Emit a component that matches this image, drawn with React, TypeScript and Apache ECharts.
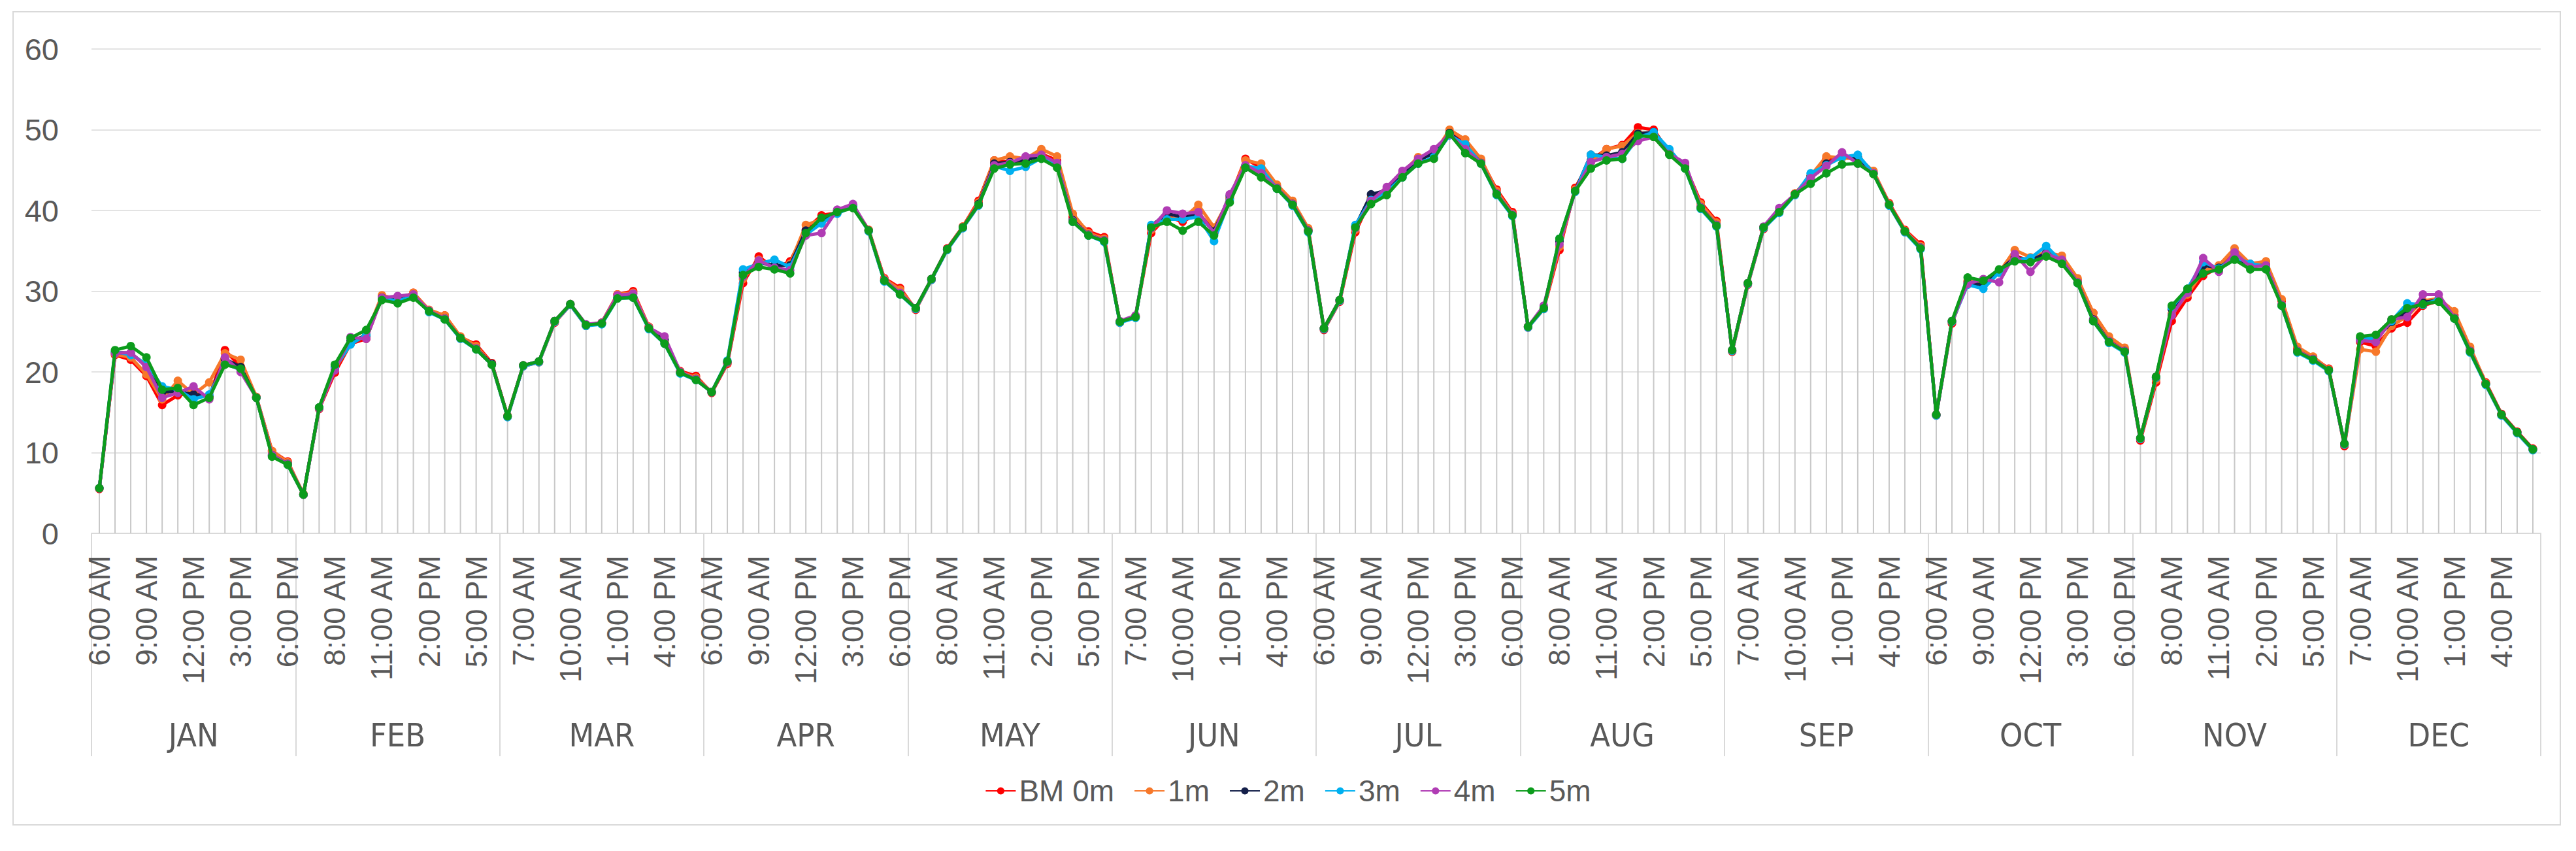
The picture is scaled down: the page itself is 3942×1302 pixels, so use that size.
import React, { useEffect, useRef } from "react";
import * as echarts from "echarts";

const months = ["JAN", "FEB", "MAR", "APR", "MAY", "JUN", "JUL", "AUG", "SEP", "OCT", "NOV", "DEC"];
const hours = [
  "6:00 AM", "7:00 AM", "8:00 AM", "9:00 AM", "10:00 AM", "11:00 AM", "12:00 PM",
  "1:00 PM", "2:00 PM", "3:00 PM", "4:00 PM", "5:00 PM", "6:00 PM",
];
const yTicks = [0, 10, 20, 30, 40, 50, 60];
const seriesNames = ["BM 0m", "1m", "2m", "3m", "4m", "5m"];

const bm0m = [
  5.5, 22.1, 21.5, 19.5, 15.9, 17.1, 17.5, 16.8, 22.7, 20.6, 16.9, 10.2, 8.9,
  4.8, 15.4, 19.9, 23.5, 24.1, 29.3, 28.8, 29.8, 27.6, 27.0, 24.3, 23.4, 21.1,
  14.5, 20.7, 21.2, 26.1, 28.3, 25.7, 26.1, 29.6, 30.0, 25.6, 23.8, 20.1, 19.5,
  17.4, 21.0, 31.0, 34.3, 32.8, 33.7, 37.6, 39.4, 39.7, 40.6, 37.6, 31.6, 30.4,
  27.7, 31.4, 35.3, 38.0, 41.2, 46.2, 46.0, 46.2, 47.0, 46.2, 39.2, 37.4, 36.7,
  26.1, 26.9, 37.2, 39.3, 38.6, 39.7, 37.5, 41.5, 46.4, 45.3, 43.0, 41.0, 37.6,
  25.2, 28.7, 37.3, 41.5, 42.5, 44.5, 46.3, 47.2, 49.6, 48.3, 46.2, 42.6, 39.8,
  25.5, 27.8, 35.1, 42.8, 46.2, 47.6, 48.1, 50.3, 50.0, 47.2, 45.5, 41.0, 38.7,
  22.5, 30.8, 37.7, 39.9, 42.1, 44.2, 46.4, 46.6, 46.6, 44.8, 40.9, 37.6, 35.8,
  14.6, 26.0, 31.2, 30.7, 32.4, 34.4, 33.7, 34.6, 34.0, 31.4, 27.3, 24.1, 22.8,
  11.5, 18.7, 26.3, 29.2, 31.9, 33.0, 34.6, 33.3, 33.3, 28.8, 22.9, 21.8, 20.4,
  10.8, 23.7, 23.2, 25.4, 26.1, 28.2, 28.8, 27.0, 22.8, 18.7, 14.8, 12.6, 10.5,
];
const m1 = [
  5.6, 22.2, 21.8, 19.7, 16.6, 18.9, 17.2, 18.7, 22.3, 21.5, 16.9, 10.2, 8.8,
  4.9, 15.5, 20.3, 23.6, 24.6, 29.5, 29.0, 29.8, 27.7, 27.0, 24.4, 23.2, 21.0,
  14.6, 20.8, 21.2, 26.2, 28.4, 25.8, 26.1, 29.6, 29.8, 25.6, 23.7, 20.0, 19.3,
  17.5, 21.1, 31.5, 33.9, 33.0, 33.4, 38.2, 38.9, 39.8, 40.5, 37.6, 31.5, 30.2,
  27.8, 31.5, 35.2, 38.0, 41.0, 46.2, 46.7, 46.4, 47.6, 46.7, 39.6, 37.2, 36.5,
  26.2, 26.9, 37.6, 39.1, 38.9, 40.7, 37.9, 41.5, 46.2, 45.8, 43.2, 41.2, 37.8,
  25.4, 28.8, 37.6, 41.6, 42.6, 44.7, 46.6, 47.0, 50.0, 48.8, 46.4, 42.4, 39.6,
  25.6, 27.9, 35.5, 42.6, 46.0, 47.6, 48.0, 49.6, 49.6, 47.0, 45.4, 40.8, 38.5,
  22.6, 31.0, 37.9, 39.9, 42.1, 44.3, 46.7, 46.5, 46.4, 44.9, 40.8, 37.5, 35.6,
  14.7, 26.2, 31.3, 30.9, 32.3, 35.1, 34.2, 34.8, 34.4, 31.6, 27.3, 24.4, 23.0,
  11.7, 19.0, 27.2, 29.6, 32.5, 33.2, 35.3, 33.4, 33.7, 29.0, 23.1, 21.9, 20.3,
  11.0, 22.8, 22.5, 25.7, 26.9, 28.8, 29.1, 27.5, 23.1, 18.6, 14.7, 12.5, 10.4,
];
const m2 = [
  5.6, 22.4, 22.3, 20.8, 17.5, 17.6, 17.2, 17.0, 21.6, 20.6, 16.8, 9.7, 8.6,
  4.8, 15.6, 20.6, 23.8, 24.5, 29.2, 28.9, 29.5, 27.5, 26.6, 24.2, 22.9, 21.0,
  14.5, 20.8, 21.3, 26.3, 28.4, 25.8, 26.0, 29.2, 29.3, 25.4, 24.0, 19.9, 19.1,
  17.5, 21.2, 32.3, 33.5, 33.2, 33.2, 37.5, 38.6, 40.0, 40.6, 37.5, 31.3, 29.7,
  27.9, 31.5, 35.2, 37.9, 40.8, 45.8, 46.0, 46.3, 46.7, 45.8, 38.8, 37.0, 36.3,
  26.2, 26.8, 38.1, 39.6, 39.2, 39.5, 37.4, 41.8, 45.5, 44.8, 42.8, 40.8, 37.5,
  25.4, 28.9, 38.0, 42.0, 42.5, 44.4, 46.2, 47.1, 49.6, 48.0, 45.9, 42.1, 39.5,
  25.6, 27.9, 36.2, 42.4, 46.9, 46.8, 47.2, 49.5, 49.7, 47.0, 45.3, 40.4, 38.2,
  22.7, 31.0, 37.9, 39.9, 42.0, 44.2, 45.8, 46.7, 46.6, 44.6, 40.7, 37.4, 35.4,
  14.7, 26.3, 31.0, 30.8, 32.5, 34.2, 33.8, 34.7, 33.8, 31.1, 26.5, 23.8, 22.6,
  11.8, 19.3, 27.8, 30.0, 33.2, 32.9, 34.2, 33.2, 33.1, 28.3, 22.6, 21.6, 20.2,
  11.1, 24.1, 24.0, 26.2, 27.5, 28.6, 28.9, 26.7, 22.6, 18.5, 14.7, 12.5, 10.4,
];
const m3 = [
  5.6, 22.5, 22.1, 21.0, 18.2, 17.8, 16.6, 17.2, 21.0, 20.3, 16.8, 9.6, 8.5,
  4.8, 15.5, 20.5, 23.4, 24.6, 29.1, 28.8, 29.4, 27.4, 26.5, 24.1, 22.8, 20.9,
  14.4, 20.7, 21.2, 26.2, 28.3, 25.7, 25.9, 29.1, 29.2, 25.3, 23.5, 19.8, 19.0,
  17.5, 21.4, 32.7, 33.4, 33.9, 33.0, 37.0, 38.4, 39.6, 40.5, 37.4, 31.2, 29.6,
  27.8, 31.4, 35.1, 37.8, 40.6, 45.5, 44.9, 45.4, 46.5, 45.8, 38.6, 36.9, 36.1,
  26.1, 26.7, 38.2, 38.9, 38.9, 39.2, 36.2, 41.3, 45.5, 45.2, 42.7, 40.6, 37.3,
  25.3, 28.8, 38.2, 41.3, 42.3, 44.1, 45.8, 46.6, 49.3, 48.2, 45.8, 41.9, 39.3,
  25.5, 27.8, 36.5, 42.3, 46.9, 46.6, 46.4, 49.0, 49.7, 47.6, 45.2, 40.2, 38.0,
  22.6, 30.9, 37.8, 39.7, 41.9, 44.6, 45.6, 46.6, 46.9, 44.6, 40.6, 37.3, 35.2,
  14.6, 26.2, 30.8, 30.3, 32.3, 33.9, 34.1, 35.6, 33.6, 31.0, 26.3, 23.6, 22.4,
  11.7, 19.3, 28.0, 30.3, 33.6, 32.8, 34.3, 33.4, 33.1, 28.2, 22.4, 21.4, 20.1,
  11.0, 24.0, 24.2, 26.3, 28.5, 28.3, 29.0, 26.6, 22.4, 18.4, 14.6, 12.4, 10.3,
];
const m4 = [
  5.6, 22.3, 22.4, 20.6, 16.8, 17.4, 18.2, 16.6, 21.8, 20.0, 16.8, 9.7, 8.6,
  4.8, 15.5, 20.2, 24.3, 24.1, 29.2, 29.4, 29.6, 27.6, 26.6, 24.2, 22.9, 20.9,
  14.5, 20.8, 21.3, 26.3, 28.4, 25.9, 26.1, 29.5, 29.7, 25.5, 24.4, 20.0, 19.1,
  17.5, 21.2, 31.8, 33.8, 32.9, 32.6, 36.9, 37.2, 40.1, 40.8, 37.5, 31.4, 29.8,
  27.9, 31.5, 35.2, 37.9, 40.7, 45.6, 45.9, 46.7, 46.9, 45.9, 38.7, 37.0, 36.3,
  26.3, 27.0, 37.8, 40.0, 39.6, 39.8, 37.2, 42.0, 45.6, 44.6, 42.8, 40.8, 37.5,
  25.4, 28.9, 37.8, 41.2, 42.9, 44.9, 46.4, 47.6, 49.4, 47.6, 45.9, 42.1, 39.5,
  25.6, 28.2, 35.8, 42.4, 46.0, 46.6, 47.0, 48.6, 49.1, 47.0, 45.9, 40.4, 38.2,
  22.7, 31.0, 38.0, 40.3, 42.0, 44.0, 45.5, 47.2, 45.8, 44.6, 40.7, 37.4, 35.4,
  14.7, 26.3, 30.9, 31.5, 31.1, 34.6, 32.4, 34.6, 33.9, 31.1, 26.4, 23.8, 22.6,
  11.8, 19.4, 27.0, 29.8, 34.1, 32.4, 34.8, 33.0, 33.2, 28.3, 22.6, 21.6, 20.2,
  11.1, 23.9, 23.7, 26.5, 26.8, 29.6, 29.6, 26.7, 22.6, 18.5, 14.7, 12.5, 10.4,
];
const m5 = [
  5.6, 22.7, 23.2, 21.8, 17.8, 18.0, 15.9, 16.8, 20.9, 20.4, 16.8, 9.5, 8.5,
  4.8, 15.6, 20.9, 24.2, 25.2, 28.9, 28.5, 29.2, 27.5, 26.5, 24.2, 22.8, 20.9,
  14.5, 20.8, 21.3, 26.3, 28.4, 25.8, 26.0, 29.1, 29.2, 25.4, 23.5, 19.9, 19.0,
  17.5, 21.3, 32.0, 33.0, 32.7, 32.2, 37.2, 39.1, 39.8, 40.3, 37.5, 31.3, 29.6,
  27.9, 31.5, 35.2, 37.9, 40.7, 45.2, 45.7, 45.8, 46.4, 45.3, 38.6, 36.9, 36.2,
  26.2, 26.8, 37.9, 38.6, 37.5, 38.6, 36.9, 41.0, 45.3, 44.1, 42.7, 40.7, 37.4,
  25.4, 28.9, 37.9, 40.8, 41.9, 44.1, 45.8, 46.4, 49.5, 47.1, 45.8, 42.0, 39.4,
  25.6, 27.9, 36.5, 42.4, 45.2, 46.2, 46.4, 49.3, 49.1, 46.9, 45.2, 40.3, 38.1,
  22.7, 31.0, 37.9, 39.8, 42.0, 43.3, 44.6, 45.7, 45.8, 44.5, 40.7, 37.4, 35.3,
  14.7, 26.3, 31.7, 31.3, 32.7, 33.7, 33.6, 34.3, 33.4, 31.0, 26.3, 23.7, 22.5,
  11.8, 19.4, 28.2, 30.3, 32.2, 32.7, 33.9, 32.7, 32.7, 28.2, 22.5, 21.5, 20.2,
  11.1, 24.4, 24.6, 26.5, 27.9, 28.4, 28.7, 26.6, 22.5, 18.5, 14.7, 12.5, 10.4,
];

const seriesValues = [bm0m, m1, m2, m3, m4, m5];
const seriesColors = ["#ff0000", "#f7782a", "#14204a", "#00b0f0", "#b03cb4", "#0c9c1c"];

const FONT = "'Liberation Sans', Arial, sans-serif";
const NARROW = "'Liberation Sans Narrow', 'DejaVu Sans Condensed', 'Liberation Sans', sans-serif";

export default function App() {
  const ref = useRef<HTMLDivElement>(null);
  useEffect(() => {
    if (!ref.current) return;
    const chart = echarts.init(ref.current, null, { renderer: "svg" });
    const categories = months.flatMap((m) => hours.map((h) => m + "|" + h));
    const dropValues = categories.map((_, i) => Math.max(...seriesValues.map((s) => s[i])));
    const option: any = {
      animation: false,
      backgroundColor: "#ffffff",
      textStyle: { fontFamily: FONT },
      graphic: [
        {
          type: "rect",
          silent: true,
          z: -10,
          shape: { x: 20, y: 18, width: 3898, height: 1244 },
          style: { fill: "none", stroke: "#d9d9d9", lineWidth: 2 },
        },
      ],
      grid: { left: 140, right: 54, top: 75, bottom: 486, containLabel: false },
      legend: {
        data: seriesNames,
        top: 1182,
        left: "center",
        itemWidth: 46,
        itemHeight: 14,
        itemGap: 30,
        textStyle: { fontSize: 46, color: "#595959", fontFamily: FONT },
      },
      xAxis: [
        {
          type: "category",
          data: categories,
          boundaryGap: true,
          axisLine: { show: true, lineStyle: { color: "#d9d9d9", width: 2 } },
          axisTick: { show: false },
          splitLine: { show: false },
          axisLabel: {
            interval: 2,
            rotate: 90,
            margin: 34,
            fontSize: 46,
            color: "#595959",
            fontFamily: FONT,
            formatter: (v: string) => v.split("|")[1],
          },
        },
        {
          type: "category",
          data: months,
          position: "bottom",
          boundaryGap: true,
          axisLine: { show: false },
          axisTick: {
            show: true,
            interval: 0,
            length: 341,
            alignWithLabel: false,
            lineStyle: { color: "#d9d9d9", width: 2 },
          },
          splitLine: { show: false },
          axisLabel: {
            interval: 0,
            margin: 284,
            fontSize: 50,
            color: "#595959",
            fontFamily: NARROW,
          },
        },
      ],
      yAxis: {
        type: "value",
        min: yTicks[0],
        max: yTicks[yTicks.length - 1],
        interval: 10,
        axisLine: { show: false },
        axisTick: { show: false },
        splitLine: { lineStyle: { color: "#e3e3e3", width: 2 } },
        axisLabel: { fontSize: 47, color: "#595959", margin: 50, fontFamily: FONT },
      },
      series: [
        {
          type: "bar",
          name: "drop",
          data: dropValues,
          barWidth: 2,
          silent: true,
          z: 1,
          itemStyle: { color: "#c8c8c8" },
          xAxisIndex: 0,
        },
        ...seriesNames.map((name, i) => ({
          type: "line",
          name,
          data: seriesValues[i],
          xAxisIndex: 0,
          symbol: "circle",
          symbolSize: 13,
          showSymbol: true,
          showAllSymbol: true,
          z: 3 + i,
          lineStyle: { width: 5, color: seriesColors[i] },
          itemStyle: { color: seriesColors[i] },
        })),
      ],
    };
    chart.setOption(option);
    return () => chart.dispose();
  }, []);
  return (
    <div
      ref={ref}
      style={{ position: "absolute", left: 0, top: 0, width: 3942, height: 1302, background: "#ffffff" }}
    />
  );
}
